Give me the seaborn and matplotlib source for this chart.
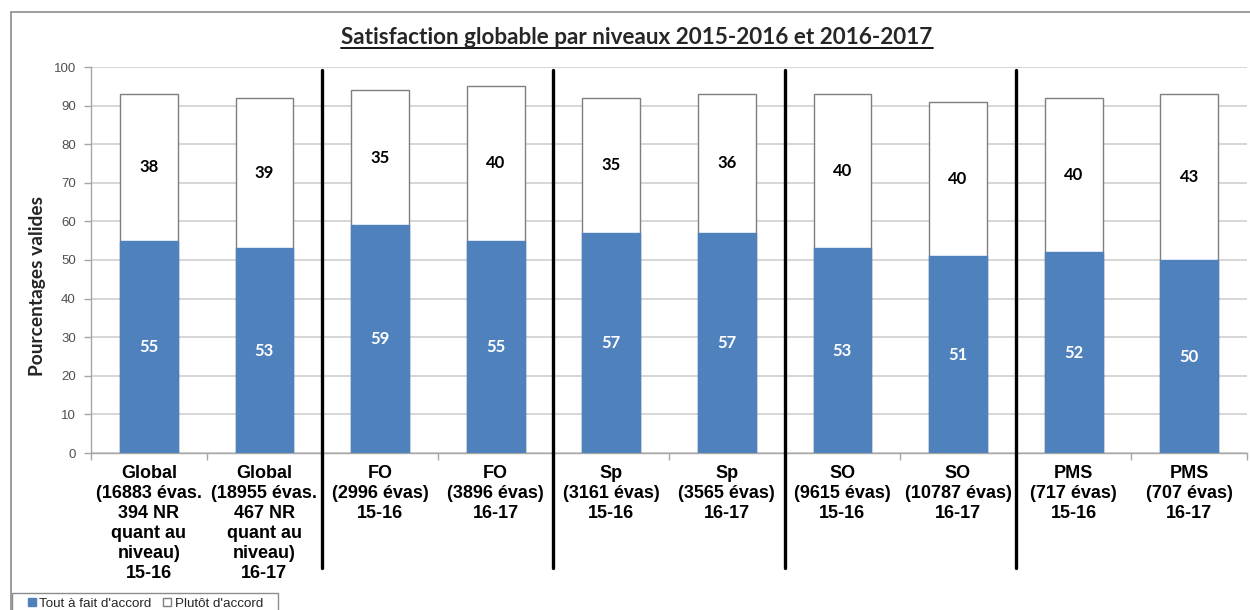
import matplotlib
matplotlib.use("Agg")
import matplotlib.pyplot as plt
from matplotlib.patches import Patch, Rectangle
from matplotlib.lines import Line2D
import matplotlib.transforms as mtransforms
import numpy as np
import pandas as pd
import seaborn as sns

# Data
categories = [
    "Global\n(16883 évas.\n394 NR\nquant au\nniveau)\n15-16",
    "Global\n(18955 évas.\n467 NR\nquant au\nniveau)\n16-17",
    "FO\n(2996 évas)\n15-16",
    "FO\n(3896 évas)\n16-17",
    "Sp\n(3161 évas)\n15-16",
    "Sp\n(3565 évas)\n16-17",
    "SO\n(9615 évas)\n15-16",
    "SO\n(10787 évas)\n16-17",
    "PMS\n(717 évas)\n15-16",
    "PMS\n(707 évas)\n16-17",
]
tout_a_fait = [55, 53, 59, 55, 57, 57, 53, 51, 52, 50]
plutot = [38, 39, 35, 40, 35, 36, 40, 40, 40, 43]
y_ticks = list(range(0, 101, 10))
group_breaks = [1.5, 3.5, 5.5, 7.5]

df = pd.DataFrame({
    "categorie": categories,
    "tout": tout_a_fait,
    "plutot": plutot,
})
df["total"] = df["tout"] + df["plutot"]

sns.set_theme(style="white")
plt.rcParams["font.family"] = ["Liberation Sans", "DejaVu Sans"]

BLUE = "#4F81BD"
W, H = 1250, 610
fig = plt.figure(figsize=(W / 100, H / 100), dpi=100)
ax = fig.add_axes([91 / W, 1 - 453 / H, (1247 - 91) / W, (453 - 67) / H])

# Outer chart frame
fig.patches.append(Rectangle((11 / W, -0.05), 1.2, 1 - 12 / H + 0.05,
                             transform=fig.transFigure, fill=False,
                             edgecolor="#8C8C8C", linewidth=1.2, zorder=0))

# Stacked bars: total (white) underneath, "tout à fait" (blue) on top
sns.barplot(data=df, x="categorie", y="total", color="white", width=0.5,
            edgecolor="#7F7F7F", linewidth=1.0, saturation=1, ax=ax, zorder=2)
sns.barplot(data=df, x="categorie", y="tout", color=BLUE, width=0.5,
            edgecolor=BLUE, linewidth=1.0, saturation=1, ax=ax, zorder=3)

blue_container = ax.containers[1]
ax.bar_label(blue_container, labels=[str(v) for v in tout_a_fait],
             label_type="center", color="white", fontsize=12,
             fontweight="bold", family="Lato", zorder=5)
for i, (b, p) in enumerate(zip(tout_a_fait, plutot)):
    ax.text(i, b + p / 2, str(p), ha="center", va="center", fontsize=12,
            fontweight="bold", family="Lato", color="black", zorder=5)

ax.set_xlim(-0.5, len(categories) - 0.5)
ax.set_ylim(0, 100)
ax.set_yticks(y_ticks)
ax.set_yticklabels([str(v) for v in y_ticks], fontsize=9.5, color="#505050")
ax.set_xlabel("")
ax.set_ylabel("")

# Category labels centred under bars, tick marks at category boundaries
ax.set_xticks(range(len(categories)))
ax.set_xticklabels(categories, fontsize=13, fontweight="bold",
                   linespacing=1.22, color="black")
ax.set_xticks(np.arange(-0.5, len(categories), 1.0), minor=True)
ax.tick_params(axis="x", which="major", length=0, pad=9)
ax.tick_params(axis="x", which="minor", length=5, color="#A6A6A6",
               width=1, bottom=True)
ax.tick_params(axis="y", length=5, color="#A6A6A6", width=1, left=True,
               pad=6)

ax.yaxis.grid(True, color="#D0D0D0", linewidth=1.2, zorder=0)
ax.set_axisbelow(True)
for side in ("top", "right"):
    ax.spines[side].set_visible(False)
for side in ("left", "bottom"):
    ax.spines[side].set_color("#A6A6A6")
    ax.spines[side].set_linewidth(1.0)

# Thick separators between level groups, reaching into the label area
trans = mtransforms.blended_transform_factory(ax.transData, ax.transAxes)
for xb in group_breaks:
    ax.add_line(Line2D([xb, xb], [-(568 - 453) / (453 - 67), (453 - 70) / (453 - 67)],
                       transform=trans, color="black", linewidth=2.4,
                       clip_on=False, zorder=6))

# Y label
fig.text(38 / W, 1 - 286 / H, "Pourcentages valides", rotation=90,
         ha="center", va="center", fontsize=13.8, fontweight="bold",
         family="Lato")

# Title with underline
title = fig.text(637 / W, 1 - 38 / H,
                 "Satisfaction globable par niveaux 2015-2016 et 2016-2017",
                 ha="center", va="center", fontsize=16.2, fontweight="bold",
                 family="Lato")
fig.canvas.draw()
bb = title.get_window_extent(renderer=fig.canvas.get_renderer())
uy = (bb.y0 + 1) / H
fig.add_artist(Line2D([bb.x0 / W, bb.x1 / W], [uy, uy],
                      transform=fig.transFigure, color="black", linewidth=1.3))

# Legend, with its own box at the lower left corner
fig.patches.append(Rectangle((12 / W, -0.05), (278 - 12) / W, (610 - 593) / H + 0.05,
                             transform=fig.transFigure, fill=True,
                             facecolor="white", edgecolor="#8C8C8C",
                             linewidth=1.0, zorder=1))
handles = [Patch(facecolor=BLUE, edgecolor=BLUE, label="Tout à fait d'accord"),
           Patch(facecolor="white", edgecolor="#7F7F7F", label="Plutôt d'accord")]
leg = fig.legend(handles=handles, loc="upper left",
                 bbox_to_anchor=(25 / W, 1 - 595 / H), ncol=2,
                 fontsize=9.6, frameon=False,
                 handlelength=0.6, handleheight=0.6,
                 handletextpad=0.25, columnspacing=0.9, borderpad=0.2,
                 borderaxespad=0)
leg.set_zorder(3)

fig.savefig("out.png", dpi=100)
